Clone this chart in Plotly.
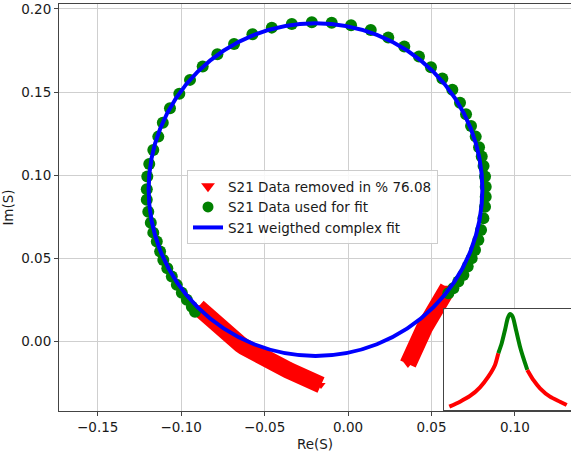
import plotly.graph_objects as go

# S21 points kept for the circle fit (Re, Im)
used_re = [-0.0917, -0.0936, -0.0966, -0.0996, -0.1026, -0.1056, -0.1083, -0.1107, -0.1126,
           -0.1146, -0.1167, -0.1182, -0.1197, -0.1206, -0.1206, -0.1203, -0.1191,
           -0.1167, -0.1137, -0.1110, -0.1067, -0.1011, -0.0947, -0.0871, -0.0783, -0.0683,
           -0.0573, -0.0457, -0.0337, -0.0217, -0.0098, 0.0018, 0.0136, 0.0241, 0.0337,
           0.0425, 0.0497, 0.0565, 0.0625, 0.0671, 0.0707, 0.0737, 0.0765,
           0.0785, 0.0801, 0.0812, 0.0821, 0.0825, 0.0825, 0.0821, 0.0811, 0.0797, 0.0781,
           0.0761, 0.0741, 0.0717, 0.0691, 0.0661, 0.0631, 0.0601]
used_im = [0.0180, 0.0210, 0.0251, 0.0294, 0.0341, 0.0391, 0.0441, 0.0491, 0.0541,
           0.0601, 0.0655, 0.0715, 0.0781, 0.0852, 0.0916, 0.0992, 0.1068,
           0.1152, 0.1232, 0.1316, 0.1403, 0.1489, 0.1573, 0.1653, 0.1727, 0.1789,
           0.1847, 0.1887, 0.1909, 0.1919, 0.1917, 0.1901, 0.1873, 0.1827, 0.1773,
           0.1713, 0.1649, 0.1581, 0.1513, 0.1436, 0.1367, 0.1296, 0.1232,
           0.1168, 0.1112, 0.1056, 0.0992, 0.0931, 0.0871, 0.0811, 0.0742, 0.0671, 0.0611,
           0.0551, 0.0501, 0.0451, 0.0401, 0.0361, 0.0321, 0.0291]

# S21 points removed before fitting: low-frequency tail
removed_lo_re = [-0.0899, -0.0880, -0.0862, -0.0844, -0.0826, -0.0808, -0.0790, -0.0772,
                 -0.0754, -0.0736, -0.0718, -0.0700, -0.0681, -0.0662, -0.0643, -0.0624,
                 -0.0605, -0.0586, -0.0566, -0.0546, -0.0526, -0.0506, -0.0486, -0.0465,
                 -0.0444, -0.0423, -0.0402, -0.0381, -0.0360, -0.0338, -0.0316, -0.0294,
                 -0.0272, -0.0250, -0.0228, -0.0206, -0.0184, -0.0162]
removed_lo_im = [0.0207, 0.0188, 0.0170, 0.0153, 0.0135, 0.0117, 0.0100, 0.0084,
                 0.0068, 0.0052, 0.0037, 0.0022, 0.0008, -0.0005, -0.0018, -0.0031,
                 -0.0043, -0.0055, -0.0067, -0.0078, -0.0089, -0.0100, -0.0110, -0.0121,
                 -0.0131, -0.0141, -0.0151, -0.0161, -0.0171, -0.0181, -0.0191, -0.0201,
                 -0.0211, -0.0221, -0.0231, -0.0241, -0.0251, -0.0261]

# S21 points removed before fitting: high-frequency tail
removed_hi_re = [0.0599, 0.0587, 0.0575, 0.0563, 0.0552, 0.0541, 0.0531, 0.0521, 0.0512,
                 0.0503, 0.0494, 0.0485, 0.0476, 0.0468, 0.0459, 0.0451, 0.0443, 0.0435,
                 0.0427, 0.0419, 0.0412, 0.0404, 0.0397, 0.0390, 0.0383, 0.0375, 0.0367,
                 0.0359]
removed_hi_im = [0.0323, 0.0306, 0.0289, 0.0272, 0.0255, 0.0238, 0.0221, 0.0204, 0.0187,
                 0.0170, 0.0153, 0.0136, 0.0119, 0.0102, 0.0085, 0.0068, 0.0051, 0.0034,
                 0.0017, 0.0000, -0.0017, -0.0034, -0.0051, -0.0068, -0.0085, -0.0102, -0.0119,
                 -0.0134]

# weighted complex fit result: circle centre and radius
fit_center_re = -0.0195
fit_center_im = 0.0914
fit_radius = 0.1000

# inset: |S21| against detuning, split into removed / used ranges
inset_lo_f = [-6.07, -5.0, -4.0, -3.0, -2.17, -1.5, -1.17]
inset_lo_mag = [0.033, 0.083, 0.14, 0.227, 0.333, 0.45, 0.567]
inset_mid_f = [-1.17, -0.83, -0.5, -0.23, 0.0, 0.27, 0.6, 1.0, 1.4, 1.73]
inset_mid_mag = [0.567, 0.667, 0.80, 0.917, 0.96, 0.933, 0.80, 0.633, 0.50, 0.40]
inset_hi_f = [1.73, 2.33, 3.0, 4.0, 5.0, 5.67]
inset_hi_mag = [0.40, 0.30, 0.217, 0.133, 0.083, 0.05]

removed_pct = 76.08

RED = "#ff0000"
GREEN = "#008000"
BLUE = "#0000ff"
AXIS = "#444444"
GRID = "#cfcfcf"
FONT = dict(family="DejaVu Sans", size=13.5, color="#1a1a1a")

fig = go.Figure()

# removed samples are so dense that their triangles merge into a solid band
for re_, im_ in [(removed_lo_re, removed_lo_im), (removed_hi_re, removed_hi_im)]:
    fig.add_trace(go.Scatter(
        x=re_, y=im_, mode="lines+markers", showlegend=False,
        line=dict(color=RED, width=17),
        marker=dict(symbol="triangle-down", size=8, color=RED, line=dict(width=0)),
        xaxis="x", yaxis="y"))

fig.add_trace(go.Scatter(
    x=used_re, y=used_im, mode="markers", showlegend=False,
    marker=dict(symbol="circle", size=12, color=GREEN, line=dict(width=0)),
    xaxis="x", yaxis="y"))

# legend entries
fig.add_trace(go.Scatter(
    x=[None], y=[None], mode="markers", name=f"S21 Data removed in % {removed_pct:.2f}",
    marker=dict(symbol="triangle-down", size=12, color=RED, line=dict(width=0))))
fig.add_trace(go.Scatter(
    x=[None], y=[None], mode="markers", name="S21 Data used for fit",
    marker=dict(symbol="circle", size=11, color=GREEN, line=dict(width=0))))
fig.add_trace(go.Scatter(
    x=[None], y=[None], mode="lines", name="S21 weigthed complex fit",
    line=dict(color=BLUE, width=4)))

# fitted circle
fig.add_shape(type="circle", xref="x", yref="y",
              x0=fit_center_re - fit_radius, x1=fit_center_re + fit_radius,
              y0=fit_center_im - fit_radius, y1=fit_center_im + fit_radius,
              line=dict(color=BLUE, width=4), layer="above")

# inset magnitude curve
for f, m, c in [(inset_lo_f, inset_lo_mag, RED), (inset_mid_f, inset_mid_mag, GREEN),
                (inset_hi_f, inset_hi_mag, RED)]:
    fig.add_trace(go.Scatter(
        x=f, y=m, mode="lines", showlegend=False,
        line=dict(color=c, width=4, shape="spline", smoothing=0.6),
        xaxis="x2", yaxis="y2"))

fig.update_layout(
    width=571, height=454, autosize=False,
    margin=dict(l=59, r=0, t=4, b=43, pad=0),
    paper_bgcolor="white", plot_bgcolor="white",
    font=FONT,
    showlegend=True,
    legend=dict(x=0.25, y=0.592, xanchor="left", yanchor="top",
                bgcolor="rgba(255,255,255,0.85)", bordercolor="#cccccc", borderwidth=1,
                font=FONT, itemwidth=30, traceorder="normal"),
    xaxis=dict(range=[-0.1732, 0.1336], dtick=0.05, tick0=0, tickformat=".2f",
               showgrid=True, gridcolor=GRID, gridwidth=1, zeroline=False,
               showline=True, linecolor=AXIS, linewidth=1, mirror=True,
               ticks="outside", ticklen=4, tickcolor=AXIS,
               title=dict(text="Re(S)", font=FONT, standoff=5), domain=[0, 1]),
    yaxis=dict(range=[-0.0417, 0.2029], dtick=0.05, tick0=0, tickformat=".2f",
               showgrid=True, gridcolor=GRID, gridwidth=1, zeroline=False,
               showline=True, linecolor=AXIS, linewidth=1, mirror=False,
               ticks="outside", ticklen=4, tickcolor=AXIS,
               title=dict(text="Im(S)", font=FONT, standoff=7), domain=[0, 1]),
    xaxis2=dict(domain=[0.752, 1.0], anchor="y2", range=[-6.6, 6.1],
                showgrid=False, zeroline=False, showticklabels=False, ticks="",
                showline=True, linecolor=AXIS, linewidth=1, mirror=True),
    yaxis2=dict(domain=[0.0025, 0.25], anchor="x2", range=[0, 1.007],
                showgrid=False, zeroline=False, showticklabels=False, ticks="",
                showline=True, linecolor=AXIS, linewidth=1, mirror=False),
)

fig.write_html("out.html", config={"displayModeBar": False})
